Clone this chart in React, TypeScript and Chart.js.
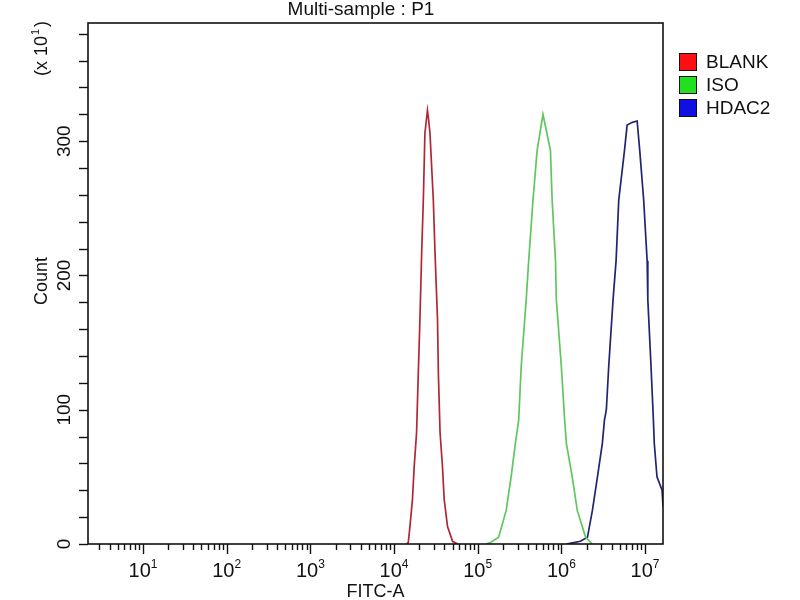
import React, { useEffect, useRef } from "react";
import { Chart, registerables } from "chart.js";

Chart.register(...registerables);

// ---- data ----
const TITLE = "Multi-sample : P1";
const X_TITLE = "FITC-A";
const Y_TITLE = "Count";
const Y_MULT_BASE = "(x 10";
const Y_MULT_EXP = "1";
const SERIES_LABELS = ["BLANK", "ISO", "HDAC2"];
const LEGEND_COLORS = ["#ff1010", "#20e020", "#1010e0"];
const LINE_COLORS = ["#b02838", "#5ec85e", "#232370"];

const X_MIN = 2.2;
const X_MAX = 16400000;
const Y_MIN = 0;
const Y_MAX = 388;
const X_DECADES = [1, 2, 3, 4, 5, 6, 7];
const Y_LABEL_TICKS = [0, 100, 200, 300];
const Y_MINOR_STEP = 20;

const BLANK_X = [14100, 14800, 15500, 16600, 17400, 18600, 19500, 20400, 21400, 22400, 23400, 25100, 25700, 26900, 29500, 30900, 33100, 33900, 35500, 38000, 39800, 43600, 50100, 57500];
const BLANK_Y = [0, 1, 13, 33, 57, 83, 127, 167, 217, 256, 306, 323, 318, 306, 256, 217, 167, 127, 83, 57, 33, 13, 2, 0];

const ISO_X = [126000, 141000, 178000, 219000, 251000, 282000, 309000, 331000, 380000, 407000, 458000, 513000, 603000, 741000, 776000, 851000, 871000, 1000000, 1096000, 1148000, 1349000, 1549000, 1950000, 2340000];
const ISO_Y = [0, 1, 5, 25, 50, 75, 92, 132, 182, 211, 256, 293, 320, 293, 256, 211, 182, 132, 92, 75, 50, 25, 5, 0];

const HDAC2_X = [1150000, 1410000, 1690000, 2050000, 2350000, 2700000, 3090000, 3270000, 3450000, 3680000, 4150000, 4510000, 4850000, 5680000, 6110000, 7060000, 8050000, 8650000, 9640000, 10600000, 10800000, 11800000, 12600000, 12900000, 13900000, 16000000, 16400000];
const HDAC2_Y = [0, 1, 2, 5, 25, 50, 75, 92, 100, 132, 182, 211, 256, 293, 312, 314, 315, 293, 256, 211, 182, 132, 92, 75, 50, 40, 28];

const FONT = '"Liberation Sans", Arial, sans-serif';

function toPoints(xs: number[], ys: number[]) {
  return xs.map((x, i) => ({ x, y: ys[i] }));
}

const decorPlugin = {
  id: "decor",
  afterDraw(chart: any) {
    const ctx = chart.ctx as CanvasRenderingContext2D;
    const area = chart.chartArea;
    const xs = chart.scales.x;
    const ys = chart.scales.y;
    ctx.save();
    ctx.strokeStyle = "#111";
    ctx.fillStyle = "#111";
    ctx.lineWidth = 1.6;
    // frame
    ctx.strokeRect(area.left, area.top, area.right - area.left, area.bottom - area.top);

    // y ticks
    ctx.lineWidth = 1.4;
    for (let v = Y_MIN; v <= Y_MAX; v += Y_MINOR_STEP) {
      const py = Math.round(ys.getPixelForValue(v)) + 0.5;
      ctx.beginPath();
      ctx.moveTo(area.left - 9, py);
      ctx.lineTo(area.left, py);
      ctx.stroke();
    }
    // y tick labels (rotated)
    ctx.font = `19px ${FONT}`;
    ctx.textAlign = "center";
    ctx.textBaseline = "middle";
    Y_LABEL_TICKS.forEach((v) => {
      const py = ys.getPixelForValue(v);
      ctx.save();
      ctx.translate(65, py);
      ctx.rotate(-Math.PI / 2);
      ctx.fillText(String(v), 0, 0);
      ctx.restore();
    });

    // x ticks
    const firstDec = Math.floor(Math.log10(X_MIN));
    const lastDec = Math.ceil(Math.log10(X_MAX));
    for (let e = firstDec; e <= lastDec; e++) {
      for (let m = 1; m <= 9; m++) {
        const v = m * Math.pow(10, e);
        if (v < X_MIN || v > X_MAX) continue;
        const px = Math.round(xs.getPixelForValue(v)) + 0.5;
        const len = m === 1 ? 10 : 6;
        ctx.beginPath();
        ctx.moveTo(px, area.bottom);
        ctx.lineTo(px, area.bottom + len);
        ctx.stroke();
      }
    }
    // x tick labels 10^k
    X_DECADES.forEach((e) => {
      const px = xs.getPixelForValue(Math.pow(10, e));
      ctx.font = `20px ${FONT}`;
      const wBase = ctx.measureText("10").width;
      ctx.font = `12px ${FONT}`;
      const wExp = ctx.measureText(String(e)).width;
      const start = px - (wBase + wExp) / 2;
      ctx.textAlign = "left";
      ctx.textBaseline = "alphabetic";
      ctx.font = `20px ${FONT}`;
      ctx.fillText("10", start, 577);
      ctx.font = `12px ${FONT}`;
      ctx.fillText(String(e), start + wBase, 568);
    });

    // axis titles
    ctx.font = `18px ${FONT}`;
    ctx.textAlign = "center";
    ctx.textBaseline = "alphabetic";
    ctx.fillText(X_TITLE, (area.left + area.right) / 2, 597);

    ctx.save();
    ctx.translate(47, 281);
    ctx.rotate(-Math.PI / 2);
    ctx.fillText(Y_TITLE, 0, 0);
    ctx.restore();

    // (x 10^1)
    ctx.save();
    ctx.translate(47, 49);
    ctx.rotate(-Math.PI / 2);
    ctx.font = `18px ${FONT}`;
    const w1 = ctx.measureText(Y_MULT_BASE).width;
    ctx.font = `11px ${FONT}`;
    const w2 = ctx.measureText(Y_MULT_EXP).width + 2;
    ctx.font = `18px ${FONT}`;
    const w3 = ctx.measureText(")").width;
    const tot = w1 + w2 + w3;
    ctx.textAlign = "left";
    let cx = -tot / 2;
    ctx.fillText(Y_MULT_BASE, cx, 0);
    cx += w1 + 1;
    ctx.font = `11px ${FONT}`;
    ctx.fillText(Y_MULT_EXP, cx, -8);
    cx += w2;
    ctx.font = `18px ${FONT}`;
    ctx.fillText(")", cx, 0);
    ctx.restore();

    // title
    ctx.font = `19px ${FONT}`;
    ctx.textAlign = "center";
    ctx.fillText(TITLE, 361, 15);

    // legend
    ctx.textAlign = "left";
    ctx.textBaseline = "middle";
    ctx.font = `19px ${FONT}`;
    chart.data.datasets.forEach((ds: any, i: number) => {
      const top = 53 + i * 23;
      ctx.fillStyle = LEGEND_COLORS[i];
      ctx.fillRect(679, top, 18, 18);
      ctx.strokeStyle = "#111";
      ctx.lineWidth = 1;
      ctx.strokeRect(679.5, top + 0.5, 17, 17);
      ctx.fillStyle = "#111";
      ctx.fillText(ds.label, 706, top + 10);
    });
    ctx.restore();
  },
};

export default function App() {
  const ref = useRef<HTMLCanvasElement | null>(null);
  useEffect(() => {
    if (!ref.current) return;
    const xsArr = [BLANK_X, ISO_X, HDAC2_X];
    const ysArr = [BLANK_Y, ISO_Y, HDAC2_Y];
    const chart = new Chart(ref.current, {
      type: "line",
      data: {
        datasets: SERIES_LABELS.map((label, i) => ({
          label,
          data: toPoints(xsArr[i], ysArr[i]),
          borderColor: LINE_COLORS[i],
          borderWidth: 1.7,
          pointRadius: 0,
          fill: false,
          tension: 0,
        })),
      },
      options: {
        responsive: false,
        animation: false,
        devicePixelRatio: 1,
        layout: { padding: { left: 88, right: 137, top: 23, bottom: 56 } },
        scales: {
          x: { type: "logarithmic", min: X_MIN, max: X_MAX, display: false },
          y: { type: "linear", min: Y_MIN, max: Y_MAX, display: false },
        },
        plugins: {
          legend: { display: false },
          tooltip: { enabled: false },
          title: { display: false },
        },
      },
      plugins: [decorPlugin],
    });
    return () => chart.destroy();
  }, []);
  return (
    <div style={{ position: "absolute", left: 0, top: 0, width: 800, height: 600, background: "#fff" }}>
      <canvas ref={ref} width={800} height={600} />
    </div>
  );
}
